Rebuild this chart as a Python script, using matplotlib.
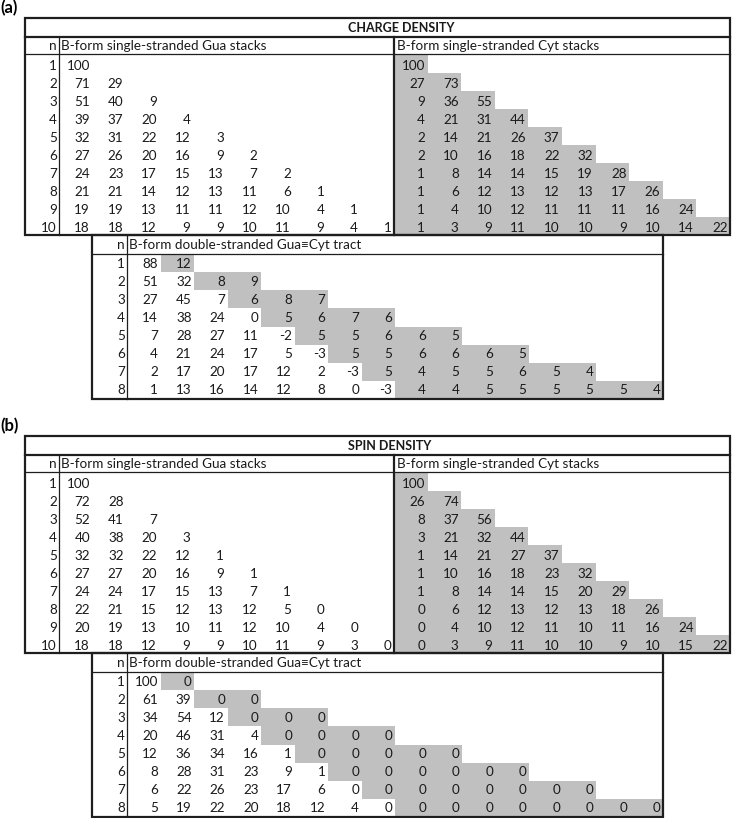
import matplotlib.pyplot as plt
from matplotlib.patches import Rectangle

plt.rcParams['font.family'] = ['Lato', 'DejaVu Sans']

# ---- data: (a) charge density ----
gua_charge = [
    [100],
    [71, 29],
    [51, 40, 9],
    [39, 37, 20, 4],
    [32, 31, 22, 12, 3],
    [27, 26, 20, 16, 9, 2],
    [24, 23, 17, 15, 13, 7, 2],
    [21, 21, 14, 12, 13, 11, 6, 1],
    [19, 19, 13, 11, 11, 12, 10, 4, 1],
    [18, 18, 12, 9, 9, 10, 11, 9, 4, 1],
]
cyt_charge = [
    [100],
    [27, 73],
    [9, 36, 55],
    [4, 21, 31, 44],
    [2, 14, 21, 26, 37],
    [2, 10, 16, 18, 22, 32],
    [1, 8, 14, 14, 15, 19, 28],
    [1, 6, 12, 13, 12, 13, 17, 26],
    [1, 4, 10, 12, 11, 11, 11, 16, 24],
    [1, 3, 9, 11, 10, 10, 9, 10, 14, 22],
]
# double strand: first n values = Gua strand, last n values = Cyt strand
ds_charge = [
    [88, 12],
    [51, 32, 8, 9],
    [27, 45, 7, 6, 8, 7],
    [14, 38, 24, 0, 5, 6, 7, 6],
    [7, 28, 27, 11, -2, 5, 5, 6, 6, 5],
    [4, 21, 24, 17, 5, -3, 5, 5, 6, 6, 6, 5],
    [2, 17, 20, 17, 12, 2, -3, 5, 4, 5, 5, 6, 5, 4],
    [1, 13, 16, 14, 12, 8, 0, -3, 4, 4, 5, 5, 5, 5, 5, 4],
]

# ---- data: (b) spin density ----
gua_spin = [
    [100],
    [72, 28],
    [52, 41, 7],
    [40, 38, 20, 3],
    [32, 32, 22, 12, 1],
    [27, 27, 20, 16, 9, 1],
    [24, 24, 17, 15, 13, 7, 1],
    [22, 21, 15, 12, 13, 12, 5, 0],
    [20, 19, 13, 10, 11, 12, 10, 4, 0],
    [18, 18, 12, 9, 9, 10, 11, 9, 3, 0],
]
cyt_spin = [
    [100],
    [26, 74],
    [8, 37, 56],
    [3, 21, 32, 44],
    [1, 14, 21, 27, 37],
    [1, 10, 16, 18, 23, 32],
    [1, 8, 14, 14, 15, 20, 29],
    [0, 6, 12, 13, 12, 13, 18, 26],
    [0, 4, 10, 12, 11, 10, 11, 16, 24],
    [0, 3, 9, 11, 10, 10, 9, 10, 15, 22],
]
ds_spin = [
    [100, 0],
    [61, 39, 0, 0],
    [34, 54, 12, 0, 0, 0],
    [20, 46, 31, 4, 0, 0, 0, 0],
    [12, 36, 34, 16, 1, 0, 0, 0, 0, 0],
    [8, 28, 31, 23, 9, 1, 0, 0, 0, 0, 0, 0],
    [6, 22, 26, 23, 17, 6, 0, 0, 0, 0, 0, 0, 0, 0],
    [5, 19, 22, 20, 18, 12, 4, 0, 0, 0, 0, 0, 0, 0, 0, 0],
]

W, H = 732, 818
FS = 9.7
SHADE = '#c0c0c0'
LC = '#1e1e1e'
TC = '#1a1a1a'
THICK = 1.6
THIN = 0.9


def line(ax, x0, y0, x1, y1, lw):
    ax.plot([x0, x1], [y0, y1], color=LC, lw=lw, solid_capstyle='projecting', zorder=3)


def panel(ax, y0, label, title, gua, cyt, ds):
    # outer geometry (pixels)
    L, R, SEP, NCOL = 25, 730, 394, 59
    top_bot = y0 + 217.5
    hdr_top, hdr_bot = y0 + 19.5, y0 + 36.5
    cw_g = (SEP - NCOL) / 10
    cw_c = (R - SEP) / 10

    ax.text(0, y0 - 9, label, fontsize=12, fontweight='bold', ha='left', va='center', color='black')
    ax.text(348, y0 + 10, title, fontsize=9, fontweight='bold', ha='left', va='center', color=TC)

    # header row
    ax.text(NCOL - 2, y0 + 28.5, 'n', fontsize=FS, ha='right', va='center', color=TC)
    ax.text(NCOL + 2, y0 + 28.5, 'B-form single-stranded Gua stacks', fontsize=FS,
            ha='left', va='center', color=TC)
    ax.text(SEP + 3, y0 + 28.5, 'B-form single-stranded Cyt stacks', fontsize=FS,
            ha='left', va='center', color=TC)

    # single stranded rows
    for i in range(10):
        rt = hdr_bot if i == 0 else y0 + 37.5 + 18 * i
        rb = y0 + 37.5 + 18 * (i + 1)
        ty = y0 + 48 + 18 * i
        ax.text(NCOL - 2, ty, str(i + 1), fontsize=FS, ha='right', va='center', color=TC)
        for j, v in enumerate(gua[i]):
            ax.text(NCOL + cw_g * (j + 1) - 2.5, ty, str(v), fontsize=FS,
                    ha='right', va='center', color=TC)
        for j, v in enumerate(cyt[i]):
            ax.add_patch(Rectangle((SEP + cw_c * j, rt), cw_c, rb - rt,
                                   facecolor=SHADE, edgecolor='none', zorder=1))
            ax.text(SEP + cw_c * (j + 1) - 2.5, ty, str(v), fontsize=FS,
                    ha='right', va='center', color=TC, zorder=2)

    line(ax, L, hdr_top, R, hdr_top, THICK)
    line(ax, L, hdr_bot, R, hdr_bot, THIN)
    line(ax, NCOL, hdr_top, NCOL, top_bot, THIN)
    line(ax, SEP, hdr_top, SEP, top_bot, THICK)
    ax.add_patch(Rectangle((L, y0), R - L, top_bot - y0, fill=False, edgecolor=LC,
                           lw=THICK, zorder=4))

    # double stranded table
    DL, DN, DR = 92, 127, 663
    d_hdr_bot = top_bot + 19
    d_bot = top_bot + 164
    cw_d = (DR - DN) / 16
    rh = (d_bot - d_hdr_bot) / 8
    ax.text(DN - 2, top_bot + 10, 'n', fontsize=FS, ha='right', va='center', color=TC)
    ax.text(DN + 2, top_bot + 10, 'B-form double-stranded Gua\u2261Cyt tract', fontsize=FS,
            ha='left', va='center', color=TC)
    for i, row in enumerate(ds):
        rt = d_hdr_bot + rh * i
        ty = rt + 9.5
        n = len(row) // 2
        ax.text(DN - 2, ty, str(i + 1), fontsize=FS, ha='right', va='center', color=TC)
        for j, v in enumerate(row):
            if j >= n:
                ax.add_patch(Rectangle((DN + cw_d * j, rt), cw_d, rh,
                                       facecolor=SHADE, edgecolor='none', zorder=1))
            ax.text(DN + cw_d * (j + 1) - 2.5, ty, str(v), fontsize=FS,
                    ha='right', va='center', color=TC, zorder=2)
    line(ax, DL, d_hdr_bot, DR, d_hdr_bot, THIN)
    line(ax, DN, top_bot, DN, d_bot, THIN)
    ax.add_patch(Rectangle((DL, top_bot), DR - DL, d_bot - top_bot, fill=False,
                           edgecolor=LC, lw=THICK, zorder=4))


fig = plt.figure(figsize=(W / 100, H / 100), dpi=100)
ax = fig.add_axes([0, 0, 1, 1])
ax.set_xlim(0, W)
ax.set_ylim(H, 0)
ax.axis('off')

panel(ax, 17.5, '(a)', 'CHARGE DENSITY', gua_charge, cyt_charge, ds_charge)
panel(ax, 435.5, '(b)', 'SPIN DENSITY', gua_spin, cyt_spin, ds_spin)

fig.savefig('out.png', dpi=100)
